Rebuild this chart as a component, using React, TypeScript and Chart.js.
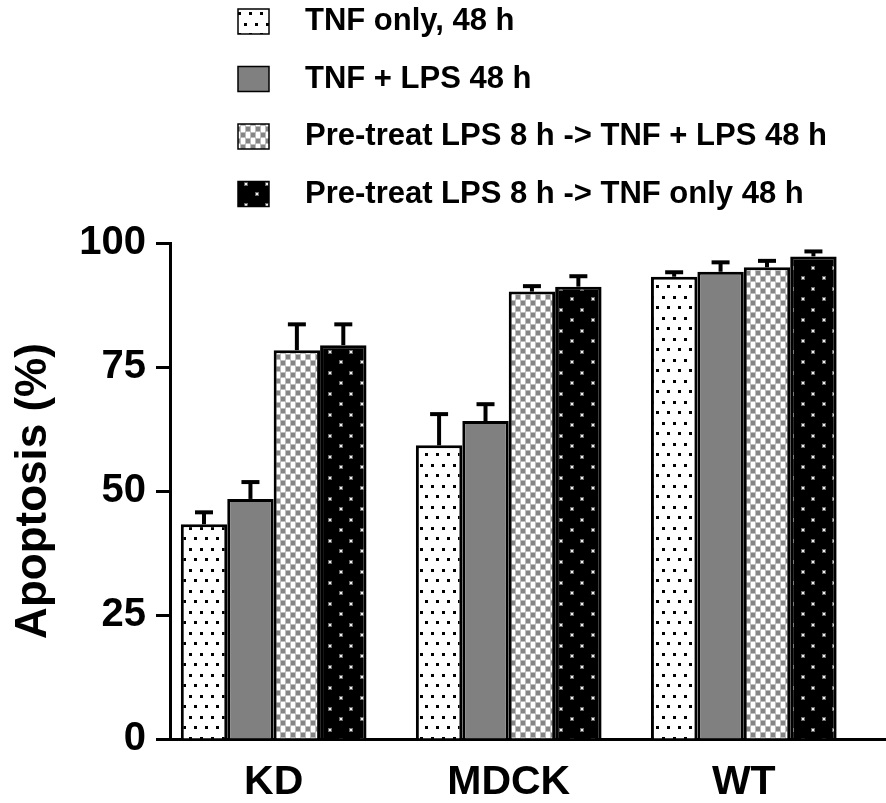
import React, { useEffect, useRef } from 'react';
import { Chart, registerables } from 'chart.js';
Chart.register(...registerables);

const categories = ['KD', 'MDCK', 'WT'];
const seriesNames = [
  'TNF only, 48 h',
  'TNF + LPS 48 h',
  'Pre-treat LPS 8 h -> TNF + LPS 48 h',
  'Pre-treat LPS 8 h -> TNF only 48 h',
];
const tnfOnly = [43.3, 59.2, 93.2];
const tnfLps = [48.4, 64.1, 94.2];
const preTnfLps = [78.4, 90.2, 95.1];
const preTnfOnly = [79.4, 91.2, 97.3];
const tnfOnlyErr = [2.4, 6.3, 0.9];
const tnfLpsErr = [3.4, 3.4, 1.9];
const preTnfLpsErr = [5.2, 1.1, 1.3];
const preTnfOnlyErr = [4.2, 2.1, 1.0];
const yTicks = [0, 25, 50, 75, 100];
const yTitle = 'Apoptosis (%)';

const FONT = '"Liberation Sans", Arial, Helvetica, sans-serif';

function makeTile(w: number, h: number, draw: (c: CanvasRenderingContext2D) => void) {
  const t = document.createElement('canvas');
  t.width = w;
  t.height = h;
  const c = t.getContext('2d')!;
  draw(c);
  return t;
}

function makePatterns(ctx: CanvasRenderingContext2D) {
  const p1 = makeTile(11, 21, (c) => {
    c.fillStyle = '#fff';
    c.fillRect(0, 0, 11, 21);
    c.fillStyle = '#000';
    c.fillRect(2, 2, 3, 3);
    c.fillRect(7, 12, 3, 3);
  });
  const p3 = makeTile(10, 12, (c) => {
    c.fillStyle = '#ffffff';
    c.fillRect(0, 0, 10, 12);
    c.fillStyle = '#bdbdbd';
    c.fillRect(0, 0, 6, 6);
    c.fillRect(5, 6, 6, 6);
    c.fillRect(0, 6, 1, 6);
    c.fillStyle = '#858585';
    c.fillRect(1, 1, 4, 4);
    c.fillRect(6, 7, 4, 4);
  });
  const p4 = makeTile(21, 21, (c) => {
    c.fillStyle = '#000';
    c.fillRect(0, 0, 21, 21);
    c.fillStyle = '#6a6a6a';
    c.fillRect(3, 3, 4, 4);
    c.fillRect(13, 14, 4, 4);
    c.fillStyle = '#f2f2f2';
    c.fillRect(4, 4, 2, 2);
    c.fillRect(14, 15, 2, 2);
  });
  return [
    ctx.createPattern(p1, 'repeat')!,
    '#808080',
    ctx.createPattern(p3, 'repeat')!,
    ctx.createPattern(p4, 'repeat')!,
  ] as (CanvasPattern | string)[];
}

export default function App() {
  const ref = useRef<HTMLCanvasElement>(null);

  useEffect(() => {
    const canvas = ref.current!;
    const ctx = canvas.getContext('2d')!;
    const fills = makePatterns(ctx);
    const values = [tnfOnly, tnfLps, preTnfLps, preTnfOnly];
    const errors = [tnfOnlyErr, tnfLpsErr, preTnfLpsErr, preTnfOnlyErr];

    const errorBars = {
      id: 'errorBars',
      afterDatasetsDraw(chart: any) {
        const c = chart.ctx;
        const ys = chart.scales.y;
        chart.data.datasets.forEach((ds: any, di: number) => {
          const meta = chart.getDatasetMeta(di);
          meta.data.forEach((bar: any, i: number) => {
            const top = ys.getPixelForValue(values[di][i] + errors[di][i]);
            c.save();
            c.strokeStyle = '#000';
            c.lineWidth = 4;
            c.lineCap = 'butt';
            c.beginPath();
            c.moveTo(bar.x, bar.y);
            c.lineTo(bar.x, top);
            c.stroke();
            c.beginPath();
            c.moveTo(bar.x - 9, top);
            c.lineTo(bar.x + 9, top);
            c.stroke();
            c.restore();
          });
        });
      },
    };

    const legendRows = [21.5, 79, 136.5, 194];
    const customLegend = {
      id: 'customLegend',
      afterDraw(chart: any) {
        const c = chart.ctx;
        c.save();
        seriesNames.forEach((name, i) => {
          const cy = legendRows[i];
          c.fillStyle = fills[i] as any;
          c.fillRect(238, cy - 12.5, 31, 25);
          c.strokeStyle = '#000';
          c.lineWidth = 1.5;
          c.strokeRect(238, cy - 12.5, 31, 25);
          c.fillStyle = '#000';
          c.font = `bold 31px ${FONT}`;
          c.textBaseline = 'middle';
          c.textAlign = 'left';
          c.fillText(name, 305, cy);
        });
        c.restore();
      },
    };

    const chart = new Chart(canvas, {
      type: 'bar',
      data: {
        datasets: values.map((vals, di) => ({
          label: seriesNames[di],
          data: vals.map((v, i) => ({ x: i, y: v })),
          backgroundColor: fills[di] as any,
          borderColor: '#000',
          borderWidth: 3,
          categoryPercentage: 0.79,
          barPercentage: 1.0,
        })),
      },
      options: {
        animation: false,
        responsive: false,
        layout: { padding: { top: 243, left: 0, right: 0, bottom: 0 } },
        plugins: { legend: { display: false }, tooltip: { enabled: false } },
        scales: {
          x: {
            type: 'linear',
            offset: false,
            min: -0.441,
            max: 2.605,
            afterBuildTicks: (axis: any) => {
              axis.ticks = categories.map((_, i) => ({ value: i }));
            },
            afterFit: (scale: any) => {
              scale.height = 803 - 739;
            },
            grid: { display: false, drawTicks: false, offset: false },
            border: { display: true, color: '#000', width: 3 },
            ticks: {
              padding: 19,
              color: '#000',
              font: { family: FONT, size: 41, weight: 'bold' },
              callback: (_v: any, i: number) => categories[i],
              maxRotation: 0,
              autoSkip: false,
            },
          },
          y: {
            min: 0,
            max: 100,
            afterBuildTicks: (axis: any) => {
              axis.ticks = yTicks.map((v) => ({ value: v }));
            },
            afterFit: (scale: any) => {
              scale.width = 170;
            },
            grid: {
              drawOnChartArea: false,
              drawTicks: true,
              tickLength: 14,
              tickWidth: 3,
              color: '#000',
            },
            border: { display: true, color: '#000', width: 3 },
            ticks: {
              padding: 10,
              color: '#000',
              font: { family: FONT, size: 40, weight: 'bold' },
            },
            title: {
              display: true,
              text: yTitle,
              color: '#000',
              font: { family: FONT, size: 44, weight: 'bold' },
              padding: { top: 7, bottom: 0 },
            },
          },
        },
      },
      plugins: [errorBars, customLegend],
    } as any);

    return () => chart.destroy();
  }, []);

  return (
    <div style={{ position: 'absolute', left: 0, top: 0, width: 886, height: 803 }}>
      <canvas ref={ref} width={886} height={803} style={{ display: 'block', width: 886, height: 803 }} />
    </div>
  );
}
